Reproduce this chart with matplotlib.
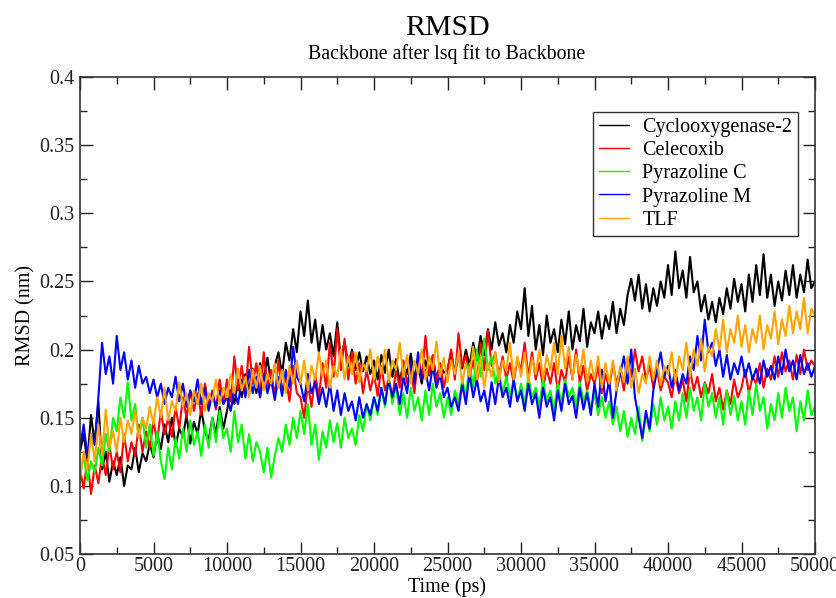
import numpy as np
import matplotlib
matplotlib.use("Agg")
import matplotlib.pyplot as plt
from matplotlib.ticker import MultipleLocator

plt.rcParams['font.family'] = ['Liberation Serif', 'DejaVu Serif']

# Time axis (ps), one sample every 250 ps
time_ps = np.arange(0, 50001, 250)

labels = ["Cyclooxygenase-2", "Celecoxib", "Pyrazoline C", "Pyrazoline M", "TLF"]
colors = ["#000000", "#ff0000", "#00ff00", "#0000ff", "#ffa500"]

cox2 = [
    0.125, 0.138, 0.118, 0.152, 0.131, 0.162, 0.112, 0.125, 0.103, 0.118, 0.108, 0.121, 0.100, 0.115, 0.112, 0.128, 0.110, 0.124, 0.118, 0.131,
    0.121, 0.138, 0.127, 0.145, 0.132, 0.150, 0.129, 0.142, 0.136, 0.152, 0.131, 0.147, 0.138, 0.156, 0.140, 0.133, 0.150, 0.138, 0.158, 0.142,
    0.155, 0.170, 0.160, 0.178, 0.165, 0.182, 0.170, 0.186, 0.168, 0.190, 0.178, 0.194, 0.175, 0.188, 0.198, 0.182, 0.205, 0.192, 0.215, 0.198,
    0.228, 0.210, 0.236, 0.205, 0.222, 0.198, 0.218, 0.200, 0.212, 0.195, 0.220, 0.192, 0.206, 0.188, 0.200, 0.185, 0.198, 0.184, 0.195, 0.182,
    0.192, 0.178, 0.196, 0.183, 0.200, 0.180, 0.193, 0.176, 0.190, 0.182, 0.197, 0.179, 0.188, 0.175, 0.192, 0.181, 0.195, 0.178, 0.189, 0.183,
    0.185, 0.198, 0.182, 0.195, 0.186, 0.200, 0.188, 0.205, 0.192, 0.210, 0.196, 0.215, 0.200, 0.220, 0.203, 0.212, 0.198, 0.218, 0.205, 0.228,
    0.215, 0.245, 0.210, 0.232, 0.200, 0.218, 0.196, 0.225, 0.205, 0.215, 0.198, 0.222, 0.204, 0.228, 0.200, 0.218, 0.206, 0.230, 0.202, 0.220,
    0.212, 0.228, 0.208, 0.225, 0.215, 0.235, 0.212, 0.230, 0.218, 0.240, 0.252, 0.236, 0.255, 0.230, 0.248, 0.228, 0.245, 0.232, 0.250, 0.238,
    0.262, 0.240, 0.272, 0.245, 0.258, 0.238, 0.268, 0.242, 0.250, 0.228, 0.240, 0.222, 0.235, 0.220, 0.238, 0.226, 0.245, 0.230, 0.252, 0.235,
    0.248, 0.228, 0.255, 0.235, 0.262, 0.240, 0.270, 0.238, 0.255, 0.232, 0.250, 0.236, 0.258, 0.240, 0.262, 0.238, 0.255, 0.242, 0.266, 0.245,
    0.250,
]

celecoxib = [
    0.112, 0.098, 0.120, 0.094, 0.115, 0.102, 0.122, 0.108, 0.130, 0.112, 0.125, 0.110, 0.138, 0.118, 0.132, 0.122, 0.145, 0.125, 0.140, 0.128,
    0.148, 0.132, 0.155, 0.138, 0.150, 0.136, 0.158, 0.142, 0.165, 0.150, 0.170, 0.155, 0.168, 0.152, 0.175, 0.158, 0.170, 0.156, 0.178, 0.160,
    0.178, 0.162, 0.195, 0.170, 0.188, 0.168, 0.202, 0.175, 0.190, 0.165, 0.198, 0.172, 0.185, 0.165, 0.192, 0.170, 0.180, 0.162, 0.188, 0.168,
    0.165, 0.150, 0.175, 0.158, 0.182, 0.165, 0.190, 0.172, 0.205, 0.180, 0.215, 0.185, 0.208, 0.178, 0.198, 0.175, 0.190, 0.168, 0.185, 0.170,
    0.182, 0.166, 0.188, 0.170, 0.178, 0.165, 0.185, 0.172, 0.192, 0.175, 0.185, 0.168, 0.195, 0.178, 0.210, 0.182, 0.196, 0.176, 0.190, 0.172,
    0.185, 0.200, 0.178, 0.212, 0.188, 0.196, 0.180, 0.192, 0.175, 0.205, 0.185, 0.214, 0.188, 0.198, 0.180, 0.195, 0.178, 0.190, 0.176, 0.193,
    0.185, 0.205, 0.180, 0.198, 0.178, 0.190, 0.172, 0.186, 0.175, 0.190, 0.170, 0.185, 0.176, 0.195, 0.178, 0.200, 0.175, 0.188, 0.170, 0.182,
    0.175, 0.188, 0.168, 0.182, 0.172, 0.190, 0.175, 0.185, 0.170, 0.192, 0.180, 0.200, 0.184, 0.195, 0.178, 0.188, 0.172, 0.185, 0.170, 0.180,
    0.176, 0.165, 0.182, 0.168, 0.178, 0.162, 0.185, 0.170, 0.180, 0.165, 0.176, 0.168, 0.182, 0.162, 0.172, 0.156, 0.170, 0.160, 0.178, 0.165,
    0.172, 0.185, 0.168, 0.180, 0.175, 0.190, 0.172, 0.186, 0.178, 0.195, 0.180, 0.198, 0.184, 0.192, 0.178, 0.196, 0.182, 0.200, 0.185, 0.192,
    0.188,
]

pyrazoline_c = [
    0.108, 0.122, 0.104, 0.118, 0.110, 0.128, 0.115, 0.138, 0.125, 0.150, 0.140, 0.165, 0.150, 0.176, 0.148, 0.160, 0.135, 0.150, 0.128, 0.145,
    0.122, 0.140, 0.118, 0.105, 0.128, 0.112, 0.135, 0.120, 0.142, 0.125, 0.148, 0.130, 0.140, 0.122, 0.145, 0.128, 0.150, 0.132, 0.155, 0.135,
    0.142, 0.125, 0.155, 0.132, 0.145, 0.120, 0.138, 0.118, 0.132, 0.125, 0.110, 0.128, 0.106, 0.122, 0.135, 0.125, 0.145, 0.130, 0.150, 0.135,
    0.155, 0.138, 0.160, 0.130, 0.145, 0.119, 0.140, 0.128, 0.148, 0.132, 0.146, 0.128, 0.150, 0.135, 0.142, 0.130, 0.152, 0.140, 0.160, 0.148,
    0.165, 0.152, 0.172, 0.158, 0.180, 0.160, 0.175, 0.152, 0.168, 0.150, 0.172, 0.155, 0.165, 0.148, 0.170, 0.152, 0.175, 0.158, 0.168, 0.150,
    0.165, 0.152, 0.170, 0.160, 0.178, 0.165, 0.190, 0.172, 0.200, 0.180, 0.208, 0.185, 0.195, 0.175, 0.185, 0.168, 0.180, 0.165, 0.178, 0.162,
    0.175, 0.160, 0.180, 0.165, 0.172, 0.158, 0.178, 0.162, 0.170, 0.155, 0.175, 0.160, 0.178, 0.165, 0.172, 0.158, 0.176, 0.162, 0.170, 0.156,
    0.168, 0.152, 0.165, 0.150, 0.162, 0.145, 0.158, 0.140, 0.155, 0.136, 0.150, 0.138, 0.158, 0.133, 0.152, 0.140, 0.160, 0.145, 0.165, 0.148,
    0.158, 0.142, 0.162, 0.148, 0.168, 0.150, 0.172, 0.155, 0.165, 0.148, 0.175, 0.158, 0.168, 0.150, 0.165, 0.145, 0.170, 0.152, 0.166, 0.148,
    0.162, 0.145, 0.170, 0.152, 0.175, 0.155, 0.165, 0.142, 0.160, 0.148, 0.168, 0.150, 0.172, 0.155, 0.165, 0.140, 0.162, 0.148, 0.170, 0.152,
    0.158,
]

pyrazoline_m = [
    0.128, 0.145, 0.122, 0.138, 0.130, 0.165, 0.205, 0.182, 0.195, 0.175, 0.210, 0.185, 0.198, 0.178, 0.192, 0.172, 0.188, 0.175, 0.180, 0.168,
    0.178, 0.165, 0.175, 0.160, 0.172, 0.165, 0.180, 0.162, 0.175, 0.158, 0.170, 0.162, 0.178, 0.160, 0.172, 0.155, 0.168, 0.158, 0.170, 0.160,
    0.165, 0.155, 0.170, 0.160, 0.178, 0.165, 0.185, 0.168, 0.180, 0.165, 0.182, 0.168, 0.178, 0.163, 0.180, 0.166, 0.185, 0.172, 0.202, 0.180,
    0.175, 0.162, 0.182, 0.168, 0.176, 0.160, 0.172, 0.158, 0.175, 0.155, 0.170, 0.152, 0.168, 0.155, 0.162, 0.148, 0.165, 0.150, 0.160, 0.152,
    0.165, 0.155, 0.172, 0.160, 0.178, 0.165, 0.175, 0.160, 0.180, 0.168, 0.192, 0.175, 0.198, 0.178, 0.185, 0.170, 0.188, 0.172, 0.182, 0.165,
    0.172, 0.158, 0.165, 0.155, 0.175, 0.160, 0.182, 0.165, 0.178, 0.162, 0.170, 0.155, 0.176, 0.160, 0.180, 0.165, 0.172, 0.158, 0.178, 0.162,
    0.170, 0.155, 0.175, 0.160, 0.168, 0.150, 0.172, 0.158, 0.165, 0.148, 0.170, 0.155, 0.175, 0.160, 0.166, 0.150, 0.172, 0.156, 0.168, 0.152,
    0.175, 0.158, 0.185, 0.162, 0.178, 0.150, 0.170, 0.182, 0.195, 0.175, 0.200, 0.165, 0.150, 0.135, 0.155, 0.142, 0.170, 0.185, 0.198, 0.180,
    0.188, 0.172, 0.185, 0.170, 0.182, 0.175, 0.195, 0.185, 0.210, 0.192, 0.222, 0.198, 0.205, 0.188, 0.200, 0.180, 0.196, 0.178, 0.190, 0.182,
    0.195, 0.180, 0.190, 0.178, 0.186, 0.175, 0.192, 0.180, 0.188, 0.178, 0.195, 0.182, 0.200, 0.184, 0.192, 0.178, 0.196, 0.182, 0.190, 0.180,
    0.188,
]

tlf = [
    0.105, 0.125, 0.112, 0.138, 0.118, 0.145, 0.122, 0.156, 0.128, 0.140, 0.125, 0.150, 0.132, 0.148, 0.138, 0.155, 0.135, 0.150, 0.142, 0.158,
    0.145, 0.165, 0.150, 0.172, 0.148, 0.162, 0.155, 0.176, 0.158, 0.168, 0.152, 0.170, 0.160, 0.175, 0.155, 0.168, 0.162, 0.178, 0.160, 0.172,
    0.165, 0.182, 0.168, 0.186, 0.170, 0.180, 0.165, 0.185, 0.172, 0.188, 0.170, 0.182, 0.175, 0.190, 0.172, 0.185, 0.168, 0.188, 0.175, 0.192,
    0.175, 0.192, 0.170, 0.188, 0.178, 0.198, 0.180, 0.192, 0.172, 0.188, 0.180, 0.200, 0.178, 0.195, 0.182, 0.198, 0.176, 0.190, 0.184, 0.200,
    0.178, 0.195, 0.182, 0.200, 0.176, 0.192, 0.185, 0.205, 0.180, 0.196, 0.175, 0.192, 0.182, 0.200, 0.178, 0.195, 0.185, 0.206, 0.180, 0.194,
    0.176, 0.192, 0.182, 0.198, 0.175, 0.190, 0.180, 0.202, 0.178, 0.195, 0.172, 0.190, 0.180, 0.198, 0.176, 0.192, 0.184, 0.205, 0.178, 0.195,
    0.180, 0.198, 0.176, 0.194, 0.182, 0.200, 0.178, 0.196, 0.185, 0.205, 0.182, 0.210, 0.186, 0.202, 0.178, 0.196, 0.182, 0.200, 0.176, 0.192,
    0.178, 0.195, 0.172, 0.190, 0.175, 0.192, 0.170, 0.188, 0.176, 0.195, 0.172, 0.186, 0.168, 0.182, 0.175, 0.195, 0.178, 0.192, 0.174, 0.188,
    0.182, 0.198, 0.176, 0.195, 0.185, 0.205, 0.180, 0.200, 0.188, 0.208, 0.184, 0.202, 0.195, 0.215, 0.200, 0.222, 0.198, 0.215, 0.205, 0.225,
    0.202, 0.218, 0.198, 0.215, 0.205, 0.225, 0.200, 0.218, 0.208, 0.228, 0.204, 0.222, 0.210, 0.232, 0.212, 0.228, 0.215, 0.238, 0.212, 0.230,
    0.225,
]

series = [cox2, celecoxib, pyrazoline_c, pyrazoline_m, tlf]

fig = plt.figure(figsize=(8.37, 5.98), dpi=100)
ax = fig.add_axes([80 / 837, 44 / 598, 735 / 837, 477 / 598])

for vals, lab, col in zip(series, labels, colors):
    ax.plot(time_ps, vals, color=col, lw=1.5, label=lab)

ax.set_xlim(0, 50000)
ax.set_ylim(0.05, 0.4)
ax.xaxis.set_major_locator(MultipleLocator(5000))
ax.xaxis.set_minor_locator(MultipleLocator(2500))
ax.yaxis.set_major_locator(MultipleLocator(0.05))
ax.yaxis.set_minor_locator(MultipleLocator(0.025))
ax.set_yticklabels([f"{v:g}" for v in ax.get_yticks()])
ax.tick_params(which='both', direction='in', top=True, right=True, labelsize=14.5, colors='#222222')
ax.tick_params(which='major', length=9, width=1.0, pad=4)
ax.tick_params(axis='x', which='major', pad=2.5)
ax.tick_params(which='minor', length=5, width=1.0)
for s in ax.spines.values():
    s.set_linewidth(1.2)
    s.set_color('#333333')

ax.set_xlabel("Time (ps)", fontsize=14.5, labelpad=0.5)
ax.set_ylabel("RMSD (nm)", fontsize=14.5, labelpad=3)

fig.text(447 / 837, 1 - 35 / 598, "RMSD", ha='center', va='baseline', fontsize=21.5)
fig.text(447 / 837, 1 - 59 / 598, "Backbone after lsq fit to Backbone", ha='center', va='baseline', fontsize=14.3)

leg = ax.legend(loc='upper left', bbox_to_anchor=((593 - 80) / 735, (554 - 112) / 477),
                fontsize=14.5, frameon=True, fancybox=False, borderaxespad=0,
                handlelength=1.5, handletextpad=0.65, labelspacing=0.2, borderpad=0.3)
leg.get_frame().set_edgecolor('black')
leg.get_frame().set_linewidth(1.0)
for h in leg.get_lines():
    h.set_linewidth(1.0)

fig.savefig("out.png", dpi=100)
